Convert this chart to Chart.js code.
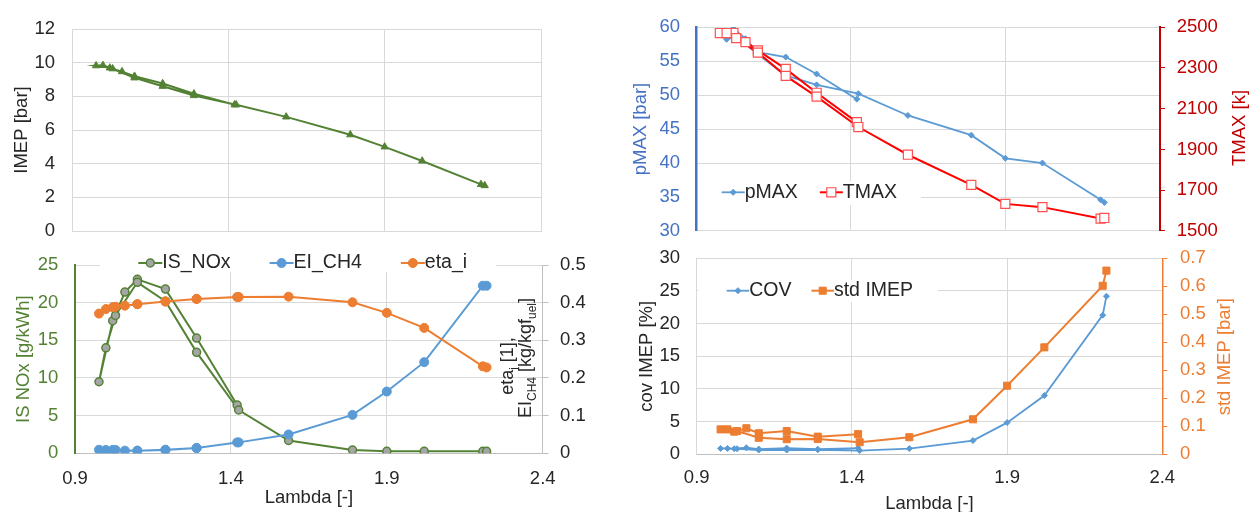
<!DOCTYPE html>
<html>
<head>
<meta charset="utf-8">
<title>Lambda sweep</title>
<script src="https://cdn.jsdelivr.net/npm/chart.js@4"></script>
<style>
  body { margin: 0; background: #fff; }
  #wrap { position: relative; width: 1250px; height: 512px; }
  #wrap canvas { position: absolute; left: 0; top: 0; }
</style>
</head>
<body>
<div id="wrap">
  <canvas id="imepChart" width="1250" height="512"></canvas>
  <canvas id="noxChart" width="1250" height="512"></canvas>
  <canvas id="peakChart" width="1250" height="512"></canvas>
  <canvas id="covChart" width="1250" height="512"></canvas>
</div>
<script>
// measurement order: first sweep back from 1.42 to rich, then out lean to 2.2
var lambda  = [1.42, 1.29, 1.19, 1.10, 1.06, 1.021, 0.977, 0.999, 1.03, 1.10, 1.19, 1.29, 1.425, 1.585, 1.79, 1.90, 2.02, 2.208, 2.22];
var imep    = [7.5, 8.15, 8.76, 9.2, 9.47, 9.69, 9.82, 9.84, 9.64, 9.1, 8.6, 8.05, 7.5, 6.78, 5.72, 5.0, 4.16, 2.77, 2.7];
var isNox   = [6.4, 15.3, 21.8, 23.1, 21.4, 17.6, 9.5, 14.0, 18.3, 22.7, 20.2, 13.4, 5.75, 1.7, 0.44, 0.26, 0.26, 0.26, 0.26];
var eiCh4   = [0.029, 0.014, 0.0095, 0.007, 0.007, 0.009, 0.0095, 0.009, 0.009, 0.007, 0.009, 0.014, 0.029, 0.05, 0.102, 0.164, 0.242, 0.445, 0.445];
var etaI    = [0.415, 0.41, 0.403, 0.396, 0.392, 0.388, 0.371, 0.383, 0.389, 0.396, 0.403, 0.41, 0.415, 0.416, 0.401, 0.373, 0.333, 0.231, 0.228];
var pMax    = [49.4, 53.1, 55.6, 56.3, 58.3, 59.8, 58.9, 58.2, 58.6, 56.0, 52.9, 51.5, 50.2, 47.0, 44.1, 40.7, 40.0, 34.6, 34.2];
var tMax    = [2034, 2178, 2295, 2386, 2426, 2471, 2471, 2471, 2446, 2375, 2261, 2159, 2010, 1874, 1726, 1633, 1617, 1561, 1564];
var cov     = [0.95, 0.77, 0.95, 0.8, 1.0, 0.85, 0.9, 0.9, 0.85, 0.65, 0.65, 0.7, 0.57, 0.87, 2.1, 4.85, 9.0, 21.3, 24.2];
var stdImep = [0.072, 0.063, 0.083, 0.075, 0.093, 0.081, 0.089, 0.089, 0.083, 0.059, 0.054, 0.055, 0.043, 0.061, 0.125, 0.245, 0.382, 0.602, 0.656];

var lambdaTicks = [0.9, 1.4, 1.9, 2.4];
var imepTicks   = [0, 2, 4, 6, 8, 10, 12];
var noxTicks    = [0, 5, 10, 15, 20, 25];
var etaTicks    = [0, 0.1, 0.2, 0.3, 0.4, 0.5];
var pMaxTicks   = [30, 35, 40, 45, 50, 55, 60];
var tMaxTicks   = [1500, 1700, 1900, 2100, 2300, 2500];
var covTicks    = [0, 5, 10, 15, 20, 25, 30];
var stdTicks    = [0, 0.1, 0.2, 0.3, 0.4, 0.5, 0.6, 0.7];

var FONT = '"Liberation Sans", Arial, sans-serif';
var GRID = '#d9d9d9', AXIS = '#bfbfbf', TEXT = '#262626';
var GREEN = '#548235', BLUE = '#5B9BD5', ORANGE = '#ED7D31';

Chart.defaults.font.family = FONT;
Chart.defaults.font.size = 18.5;
Chart.defaults.color = TEXT;
Chart.defaults.animation = false;

// legend drawn by hand so it can sit on top of the plot like the original
var manualLegend = {
  id: 'manualLegend',
  afterDraw: function (chart, args, o) {
    if (!o || o.x === undefined) return;
    var ctx = chart.ctx;
    ctx.save();
    ctx.fillStyle = '#fff';
    ctx.fillRect(o.box[0], o.box[1], o.box[2], o.box[3]);
    ctx.font = '19.5px ' + FONT;
    ctx.textBaseline = 'middle';
    var x = o.x;
    chart.data.datasets.forEach(function (ds) {
      ctx.strokeStyle = ds.borderColor;
      ctx.lineWidth = ds.borderWidth;
      ctx.beginPath();
      ctx.moveTo(x, o.y);
      ctx.lineTo(x + o.lineLen, o.y);
      ctx.stroke();
      ctx.fillStyle = ds.pointBackgroundColor;
      ctx.strokeStyle = ds.pointBorderColor;
      ctx.lineWidth = ds.pointBorderWidth;
      Chart.helpers.drawPoint(ctx, { pointStyle: ds.pointStyle, radius: ds.pointRadius, borderWidth: ds.pointBorderWidth, rotation: 0 }, x + o.lineLen / 2, o.y);
      ctx.fillStyle = TEXT;
      ctx.fillText(ds.label, x + o.lineLen, o.y);
      x += o.lineLen + ctx.measureText(ds.label).width + o.gap;
    });
    ctx.restore();
  }
};

// right-hand axis titles, read bottom to top, with optional subscripts
var rotTitle = {
  id: 'rotTitle',
  afterDraw: function (chart, args, o) {
    if (!o || !o.lines) return;
    var ctx = chart.ctx;
    o.lines.forEach(function (line) {
      var size = line.size || 18.5, sub = line.subSize || 12;
      ctx.save();
      ctx.translate(line.x, line.y);
      ctx.rotate(-Math.PI / 2);
      ctx.fillStyle = line.color || TEXT;
      ctx.textBaseline = 'middle';
      var total = 0;
      line.parts.forEach(function (p) {
        ctx.font = (p[1] ? sub : size) + 'px ' + FONT;
        total += ctx.measureText(p[0]).width;
      });
      var cx = -total / 2;
      line.parts.forEach(function (p) {
        ctx.font = (p[1] ? sub : size) + 'px ' + FONT;
        ctx.fillText(p[0], cx, p[1] ? 6 : 0);
        cx += ctx.measureText(p[0]).width;
      });
      ctx.restore();
    });
  }
};

function series(label, ys, style) {
  return Object.assign({
    label: label,
    data: lambda.map(function (x, i) { return { x: x, y: ys[i] }; }),
    tension: 0, fill: false
  }, style);
}

function xAxis(showLabels, height, hideEdges, tickPad, titlePad) {
  return {
    type: 'linear', min: 0.9, max: 2.4,
    afterBuildTicks: function (s) { s.ticks = lambdaTicks.map(function (v) { return { value: v }; }); },
    afterFit: function (s) { s.height = height; },
    grid: {
      drawTicks: false,
      color: function (c) {
        if (hideEdges && (c.index === 0 || c.index === lambdaTicks.length - 1)) return 'rgba(0,0,0,0)';
        return GRID;
      }
    },
    border: { color: showLabels ? AXIS : GRID },
    ticks: { display: showLabels, padding: tickPad, color: TEXT, callback: function (v) { return v.toFixed(1); } },
    title: { display: showLabels, text: 'Lambda [-]', color: TEXT, padding: { top: 0, bottom: titlePad } }
  };
}

function yAxis(o) {
  var left = o.pos === 'left';
  return {
    type: 'linear', position: o.pos, min: o.ticks[0], max: o.ticks[o.ticks.length - 1],
    afterBuildTicks: function (s) { s.ticks = o.ticks.map(function (v) { return { value: v }; }); },
    afterFit: function (s) { s.width = o.width; },
    grid: left ? { color: GRID, drawTicks: false }
               : { drawOnChartArea: false, drawTicks: true, tickLength: o.tickLen, tickColor: o.border },
    border: { color: o.border, width: o.borderWidth || 1 },
    ticks: { color: o.color, padding: o.tickPad, callback: function (v) { return String(v); } },
    title: { display: !!o.title, text: o.title, color: o.color, padding: { top: o.titlePad || 0, bottom: 0 } }
  };
}

// top left: IMEP
new Chart(document.getElementById('imepChart'), {
  type: 'line',
  data: { datasets: [
    series('IMEP', imep, { borderColor: GREEN, borderWidth: 2, pointStyle: 'triangle', pointRadius: 4.2,
      pointBackgroundColor: GREEN, pointBorderColor: GREEN, pointBorderWidth: 1 })
  ] },
  options: {
    responsive: false,
    layout: { padding: { left: 0, top: 29, right: 709, bottom: 281 } },
    plugins: { legend: { display: false }, tooltip: { enabled: false } },
    scales: {
      x: xAxis(false, 0, false, 0, 0),
      y: yAxis({ pos: 'left', ticks: imepTicks, width: 72, border: GRID, color: TEXT, tickPad: 17,
        title: 'IMEP [bar]', titlePad: 10.9 })
    }
  }
});

// bottom left: NOx, EI_CH4, eta_i
new Chart(document.getElementById('noxChart'), {
  type: 'line',
  data: { datasets: [
    series('IS_NOx', isNox, { yAxisID: 'y', order: 2, borderColor: GREEN, borderWidth: 2, pointStyle: 'circle', pointRadius: 4,
      pointBackgroundColor: '#a5a5a5', pointBorderColor: GREEN, pointBorderWidth: 1.5 }),
    series('EI_CH4', eiCh4, { yAxisID: 'y1', order: 1, borderColor: BLUE, borderWidth: 2, pointStyle: 'circle', pointRadius: 4.5,
      pointBackgroundColor: BLUE, pointBorderColor: BLUE, pointBorderWidth: 1 }),
    series('eta_i', etaI, { yAxisID: 'y1', order: 0, borderColor: ORANGE, borderWidth: 2, pointStyle: 'circle', pointRadius: 4.5,
      pointBackgroundColor: ORANGE, pointBorderColor: ORANGE, pointBorderWidth: 1 })
  ] },
  options: {
    responsive: false,
    layout: { padding: { left: 0, top: 265, right: 647.3, bottom: 0 } },
    plugins: {
      legend: { display: false }, tooltip: { enabled: false },
      manualLegend: { x: 138.3, y: 263, lineLen: 24, gap: 39, box: [100, 252, 396, 20] },
      rotTitle: { lines: [
        { x: 508.5, y: 366, size: 18, parts: [['eta', false], ['i', true], [' [1],', false]] },
        { x: 526.5, y: 358, size: 18, parts: [['EI', false], ['CH4', true], [' [kg/kgf', false], ['uel', true], [']', false]] }
      ] }
    },
    scales: {
      x: xAxis(true, 58.7, true, 14.3, 2.9),
      y: yAxis({ pos: 'left', ticks: noxTicks, width: 75, border: GREEN, borderWidth: 2, color: GREEN, tickPad: 16.7,
        title: 'IS NOx [g/kWh]', titlePad: 12.9 }),
      y1: yAxis({ pos: 'right', ticks: etaTicks, width: 60, border: AXIS, color: TEXT, tickPad: 11.3, tickLen: 6 })
    }
  },
  plugins: [manualLegend, rotTitle]
});

// top right: peak pressure and temperature
new Chart(document.getElementById('peakChart'), {
  type: 'line',
  data: { datasets: [
    series('pMAX', pMax, { yAxisID: 'y', order: 1, borderColor: BLUE, borderWidth: 1.8, pointStyle: 'rectRot', pointRadius: 3,
      pointBackgroundColor: BLUE, pointBorderColor: BLUE, pointBorderWidth: 1 }),
    series('TMAX', tMax, { yAxisID: 'y1', order: 0, borderColor: '#FF0000', borderWidth: 2, pointStyle: 'rect', pointRadius: 6.4,
      pointBackgroundColor: '#ffffff', pointBorderColor: '#FF5050', pointBorderWidth: 1.2 })
  ] },
  options: {
    responsive: false,
    layout: { padding: { left: 630, top: 23, right: 0, bottom: 281 } },
    plugins: {
      legend: { display: false }, tooltip: { enabled: false },
      manualLegend: { x: 721.7, y: 192.3, lineLen: 23, gap: 22, box: [698, 181, 223, 24] },
      rotTitle: { lines: [ { x: 1240, y: 128, color: '#C00000', parts: [['TMAX [k]', false]] } ] }
    },
    scales: {
      x: xAxis(false, 0, true, 0, 0),
      y: yAxis({ pos: 'left', ticks: pMaxTicks, width: 66, border: '#4472C4', borderWidth: 2.5, color: '#4472C4', tickPad: 16,
        title: 'pMAX [bar]', titlePad: 0 }),
      y1: yAxis({ pos: 'right', ticks: tMaxTicks, width: 90, border: '#C00000', borderWidth: 2, color: '#C00000', tickPad: 11.7, tickLen: 5 })
    }
  },
  plugins: [manualLegend, rotTitle]
});

// bottom right: cycle-to-cycle variation
new Chart(document.getElementById('covChart'), {
  type: 'line',
  data: { datasets: [
    series('COV', cov, { yAxisID: 'y', order: 1, borderColor: BLUE, borderWidth: 1.8, pointStyle: 'rectRot', pointRadius: 3,
      pointBackgroundColor: BLUE, pointBorderColor: BLUE, pointBorderWidth: 1 }),
    series('std IMEP', stdImep, { yAxisID: 'y1', order: 0, borderColor: ORANGE, borderWidth: 2, pointStyle: 'rect', pointRadius: 5,
      pointBackgroundColor: ORANGE, pointBorderColor: ORANGE, pointBorderWidth: 1 })
  ] },
  options: {
    responsive: false,
    layout: { padding: { left: 630, top: 258.3, right: 0, bottom: 0 } },
    plugins: {
      legend: { display: false }, tooltip: { enabled: false },
      manualLegend: { x: 726.7, y: 290.7, lineLen: 22.5, gap: 20, box: [698, 280, 240, 22] },
      rotTitle: { lines: [ { x: 1225, y: 356.7, color: ORANGE, parts: [['std IMEP [bar]', false]] } ] }
    },
    scales: {
      x: xAxis(true, 57.7, true, 12.9, -2.6),
      y: yAxis({ pos: 'left', ticks: covTicks, width: 66.7, border: GRID, color: TEXT, tickPad: 16.7,
        title: 'cov IMEP [%]', titlePad: 5.9 }),
      y1: yAxis({ pos: 'right', ticks: stdTicks, width: 87.7, border: ORANGE, borderWidth: 1.5, color: ORANGE, tickPad: 12.7, tickLen: 5 })
    }
  },
  plugins: [manualLegend, rotTitle]
});
</script>
</body>
</html>
